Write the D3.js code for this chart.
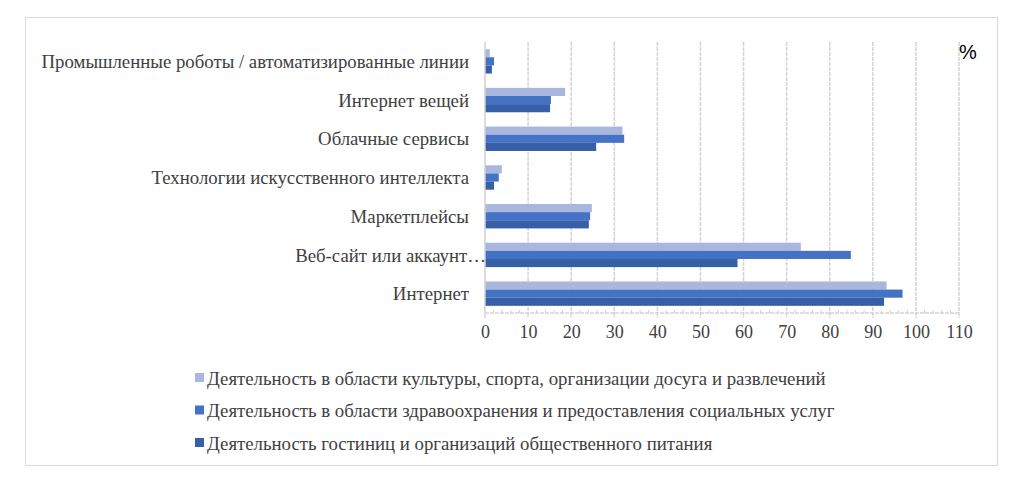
<!DOCTYPE html>
<html>
<head>
<meta charset="utf-8">
<script src="https://cdn.jsdelivr.net/npm/d3@7"></script>
<style>
  body { margin: 0; background: #fff; }
  svg { display: block; }
</style>
</head>
<body>
<div id="chart"></div>
<script>
// categories, top to bottom
const categories = [
  "Промышленные роботы / автоматизированные линии",
  "Интернет вещей",
  "Облачные сервисы",
  "Технологии искусственного интеллекта",
  "Маркетплейсы",
  "Веб-сайт или аккаунт…",
  "Интернет"
];

const seriesNames = [
  "Деятельность в области культуры, спорта, организации досуга и развлечений",
  "Деятельность в области здравоохранения и предоставления социальных услуг",
  "Деятельность гостиниц и организаций общественного питания"
];

const culture = [1.1, 18.6, 31.9, 3.9, 24.8, 73.3, 93.2];
const health = [2.1, 15.3, 32.3, 3.2, 24.4, 84.9, 96.9];
const hotels = [1.6, 15.1, 25.8, 2.1, 24.1, 58.6, 92.6];

const xTicks = [0, 10, 20, 30, 40, 50, 60, 70, 80, 90, 100, 110];
const colors = ["#a9b7de", "#4472c4", "#365fa8"];

const W = 1028, H = 495;
const plotLeft = 485, plotRight = 959, plotTop = 42, plotBottom = 313;
const serif = "'Liberation Serif', 'Times New Roman', serif";

const svg = d3.select("#chart")
  .append("svg")
  .attr("width", W)
  .attr("height", H);

// outer frame
svg.append("rect")
  .attr("x", 25.5).attr("y", 17.5)
  .attr("width", 972).attr("height", 448)
  .attr("fill", "none")
  .attr("stroke", "#d9d9d9");

const x = d3.scaleLinear().domain([0, 110]).range([plotLeft, plotRight]);
const y = d3.scaleBand().domain(categories).range([plotTop, plotBottom])
  .paddingInner(0.37).paddingOuter(0.185);
const ySub = d3.scaleBand().domain([0, 1, 2]).range([0, y.bandwidth()]);

// gridlines
svg.append("g")
  .selectAll("line")
  .data(xTicks.slice(1))
  .enter()
  .append("line")
  .attr("x1", d => x(d)).attr("x2", d => x(d))
  .attr("y1", plotTop).attr("y2", plotBottom + 5)
  .attr("stroke", "#d3d3d3")
  .attr("stroke-width", 1.5)
  .attr("stroke-dasharray", "4,1");

// bottom axis with minor ticks
svg.append("line")
  .attr("x1", plotLeft).attr("x2", plotRight)
  .attr("y1", plotBottom).attr("y2", plotBottom)
  .attr("stroke", "#d3d3d3").attr("stroke-width", 1.5)
  .attr("stroke-dasharray", "4,1");

svg.append("g")
  .selectAll("line")
  .data(d3.range(0, 111, 2).filter(d => d % 10 !== 0))
  .enter()
  .append("line")
  .attr("x1", d => x(d)).attr("x2", d => x(d))
  .attr("y1", plotBottom - 3).attr("y2", plotBottom)
  .attr("stroke", "#cfcfcf");

const xAxis = svg.append("g")
  .attr("transform", `translate(0,${plotBottom})`)
  .call(d3.axisBottom(x).tickValues(xTicks).tickSize(0).tickPadding(12));
xAxis.select(".domain").remove();
xAxis.selectAll("text")
  .style("font-family", serif)
  .style("font-size", "18px")
  .attr("fill", "#404040");

// bars
const allSeries = [culture, health, hotels];
allSeries.forEach((vals, s) => {
  svg.append("g")
    .selectAll("rect")
    .data(vals)
    .enter()
    .append("rect")
    .attr("x", x(0))
    .attr("y", (d, i) => y(categories[i]) + ySub(s))
    .attr("width", d => x(d) - x(0))
    .attr("height", ySub.bandwidth())
    .attr("fill", colors[s]);
});

// vertical axis line
svg.append("line")
  .attr("x1", plotLeft).attr("x2", plotLeft)
  .attr("y1", plotTop).attr("y2", plotBottom + 5)
  .attr("stroke", "#d0d0d0").attr("stroke-width", 1.5);

// category labels
svg.append("g")
  .selectAll("text")
  .data(categories)
  .enter()
  .append("text")
  .attr("x", d => d.endsWith("…") ? 486 : 469)
  .attr("y", d => y(d) + y.bandwidth() / 2)
  .attr("dy", "0.35em")
  .attr("text-anchor", "end")
  .style("font-family", serif)
  .style("font-size", "18.8px")
  .attr("fill", "#404040")
  .text(d => d);

// percent sign
svg.append("text")
  .attr("x", 968).attr("y", 59)
  .attr("text-anchor", "middle")
  .style("font-family", "'Liberation Sans', Arial, sans-serif")
  .style("font-size", "20px")
  .attr("fill", "#000")
  .text("%");

// legend
const legend = svg.append("g")
  .selectAll("g")
  .data(seriesNames)
  .enter()
  .append("g")
  .attr("transform", (d, i) => `translate(195,${378 + i * 32.5})`);

legend.append("rect")
  .attr("x", 0).attr("y", -5)
  .attr("width", 9).attr("height", 9)
  .attr("fill", (d, i) => colors[i]);

legend.append("text")
  .attr("x", 12)
  .attr("y", 0)
  .attr("dy", "0.35em")
  .style("font-family", serif)
  .style("font-size", "18.8px")
  .attr("fill", "#404040")
  .text(d => d);
</script>
</body>
</html>
